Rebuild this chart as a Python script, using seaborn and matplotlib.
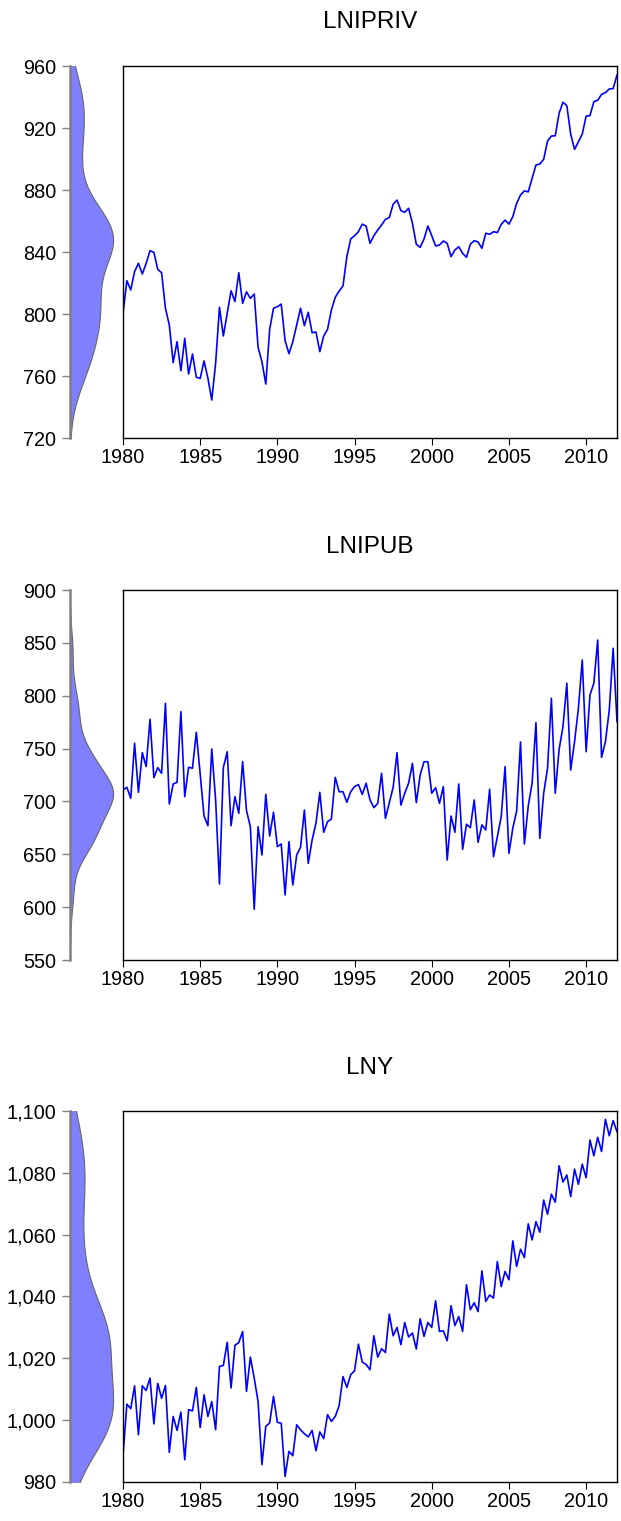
import numpy as np
import pandas as pd
import matplotlib
matplotlib.use('Agg')
import matplotlib.pyplot as plt
import matplotlib.ticker as mticker
import seaborn as sns

# kwartalne dane 1980Q1 - 2012Q1
quarters = pd.period_range('1980Q1', '2012Q1', freq='Q')
t = quarters.year + (quarters.quarter - 1) / 4.0

lnipriv = [
    800.5, 821.5, 815.5, 827.3, 832.7, 825.8, 832.7, 840.8, 839.8, 828.8, 826.6, 803.7,
    792.9, 768.6, 782.1, 763.4, 784.3, 761.3, 774.2, 759.2, 758.4, 769.7, 758.6, 744.5,
    768.2, 804.3, 785.8, 800.5, 815.0, 808.0, 826.6, 806.9, 814.3, 810.1, 812.9, 778.5,
    769.2, 754.8, 790.1, 803.7, 804.7, 806.4, 782.8, 774.4,
    782.1, 792.9, 803.7, 792.5, 801.1, 787.9, 788.4, 775.7, 785.8, 790.1, 802.6, 810.8,
    814.8, 818.1, 837.0, 848.4, 850.5, 853.1, 858.0, 856.7, 845.6, 850.5, 854.2, 857.4,
    861.1, 862.2, 870.8, 873.5, 866.7, 865.6, 868.2, 858.5, 845.0, 843.0, 848.4, 856.8,
    850.5, 843.9, 844.5, 847.1, 845.6, 837.0,
    841.3, 843.4, 839.1, 836.6, 845.0, 847.3, 846.5, 842.4, 852.1, 851.4, 853.1, 852.5,
    857.8, 860.6, 858.0, 862.8, 871.4, 876.8, 879.4, 878.8, 887.5, 896.1, 896.8, 899.8,
    911.6, 914.8, 915.0, 929.5, 936.6, 934.4, 916.1, 906.2, 911.2, 916.1, 927.7, 928.0,
    937.0, 937.9, 941.7, 942.8, 945.2, 945.4, 954.2,
]

lnipub = [
    710.8, 713.4, 703.0, 755.0, 708.6, 746.1, 732.9, 777.7, 722.5, 732.0, 726.6, 792.8,
    697.6, 716.5, 718.0, 784.9, 704.5, 732.3, 731.4, 765.4, 726.0, 686.2, 677.0, 749.6,
    701.4, 621.9, 732.0, 747.0, 677.0, 704.5, 688.8, 737.6, 691.3, 676.1, 598.0, 676.1,
    649.3, 706.7, 667.3, 689.7, 657.2, 659.7, 611.5, 661.9,
    621.0, 649.3, 656.6, 691.9, 641.5, 663.5, 679.3, 708.6, 670.8, 680.8, 683.4, 722.8,
    709.2, 709.2, 699.2, 709.2, 714.0, 716.0, 706.7, 717.2, 701.4, 694.1, 698.2, 726.6,
    684.0, 698.8, 713.4, 746.1, 696.6, 707.7, 717.2, 736.0, 698.8, 725.0, 737.6, 737.6,
    707.7, 713.0, 698.2, 714.0, 644.6, 686.2,
    670.8, 716.5, 654.7, 678.4, 675.2, 701.4, 661.3, 677.8, 673.0, 711.5, 647.7, 666.6,
    685.6, 732.9, 650.9, 674.6, 691.0, 756.2, 659.7, 695.7, 717.2, 774.5, 665.1, 707.7,
    731.3, 797.6, 707.7, 749.3, 770.7, 811.8, 729.7, 756.5, 788.1, 833.8, 747.0, 800.7,
    811.8, 852.7, 741.7, 756.5, 786.5, 844.9, 775.5,
]

lny = [
    988.5, 1005.2, 1003.7, 1011.1, 995.3, 1011.1, 1009.6, 1013.6, 998.8, 1011.9, 1007.1, 1011.2,
    989.6, 1001.2, 996.7, 1002.6, 987.2, 1003.4, 1003.0, 1010.6, 997.6, 1008.2, 1001.2, 1006.0,
    996.9, 1017.4, 1017.7, 1025.2, 1010.4, 1024.2, 1025.1, 1028.7, 1009.3, 1020.4, 1013.6, 1006.0,
    985.6, 998.0, 999.1, 1007.7, 999.3, 999.0, 981.8, 989.9,
    988.5, 998.5, 996.9, 995.6, 994.6, 996.7, 990.1, 996.2, 994.0, 1001.8, 999.6, 1001.2,
    1004.7, 1014.1, 1010.6, 1014.7, 1016.0, 1024.6, 1018.8, 1018.0, 1016.3, 1027.3, 1020.4, 1023.1,
    1021.9, 1034.3, 1027.3, 1030.0, 1024.4, 1031.6, 1026.9, 1028.2, 1023.0, 1032.8, 1027.1, 1031.6,
    1030.0, 1038.6, 1028.7, 1028.9, 1025.7, 1037.0,
    1030.6, 1033.5, 1028.7, 1043.8, 1035.7, 1038.0, 1035.1, 1048.3, 1038.4, 1040.5, 1039.5, 1051.3,
    1043.2, 1048.1, 1045.4, 1058.0, 1049.7, 1055.3, 1052.6, 1063.5, 1058.3, 1064.2, 1060.8, 1071.2,
    1066.6, 1073.1, 1070.5, 1082.3, 1077.0, 1079.3, 1072.3, 1081.2, 1076.3, 1082.8, 1078.4, 1090.6,
    1085.5, 1091.5, 1086.9, 1097.3, 1092.0, 1096.9, 1093.3,
]

series_names = ['LNIPRIV', 'LNIPUB', 'LNY']
series_values = [lnipriv, lnipub, lny]
y_limits = [(720, 960), (550, 900), (980, 1100)]
y_steps = [40, 50, 20]
x_ticks = [1980, 1985, 1990, 1995, 2000, 2005, 2010]

# pozycje paneli (w pikselach od góry: góra, dół)
panel_rows = [(66, 438), (590, 960), (1111, 1482)]

W, H = 621, 1521
plt.rcParams['font.family'] = ['Liberation Sans', 'DejaVu Sans']
fig = plt.figure(figsize=(W / 100, H / 100), dpi=100)

for name, vals, ylim, step, (top, bot) in zip(series_names, series_values, y_limits, y_steps, panel_rows):
    df = pd.DataFrame({'t': t, 'v': vals})
    bottom = 1 - bot / H
    height = (bot - top) / H

    # gęstość jądrowa po lewej
    axd = fig.add_axes([70 / W, bottom, 53 / W, height])
    sns.kdeplot(y=df['v'], ax=axd, fill=True, color='#8080ff', alpha=1,
                edgecolor='#666666', linewidth=0.8, cut=2, bw_adjust=0.85)
    axd.set_ylim(*ylim)
    axd.set_xlim(0, axd.dataLim.x1 * 1.23)
    axd.set_xlabel('')
    axd.set_ylabel('')
    axd.set_xticks([])
    axd.yaxis.set_major_locator(mticker.MultipleLocator(step))
    axd.yaxis.set_major_formatter(mticker.StrMethodFormatter('{x:,.0f}'))
    for s in ['top', 'right', 'bottom']:
        axd.spines[s].set_visible(False)
    axd.spines['left'].set_color('#808080')
    axd.spines['left'].set_linewidth(1.8)
    axd.tick_params(axis='y', length=6, width=1, color='#808080', pad=4, labelsize=14.3)
    axd.set_facecolor('none')

    # szereg czasowy
    ax = fig.add_axes([123 / W, bottom, 494 / W, height])
    sns.lineplot(data=df, x='t', y='v', ax=ax, color='#0000ff', linewidth=1.2)
    ax.set_xlim(1980, 2012)
    ax.set_ylim(*ylim)
    ax.set_xticks(x_ticks)
    ax.set_yticks([])
    ax.set_xlabel('')
    ax.set_ylabel('')
    ax.tick_params(axis='x', length=5, width=0.8, pad=2, labelsize=14.3)
    for s in ax.spines.values():
        s.set_color('black')
        s.set_linewidth(1.0)
    ax.set_title(name, fontsize=17.5, pad=27)

fig.savefig('out.png', dpi=100)
